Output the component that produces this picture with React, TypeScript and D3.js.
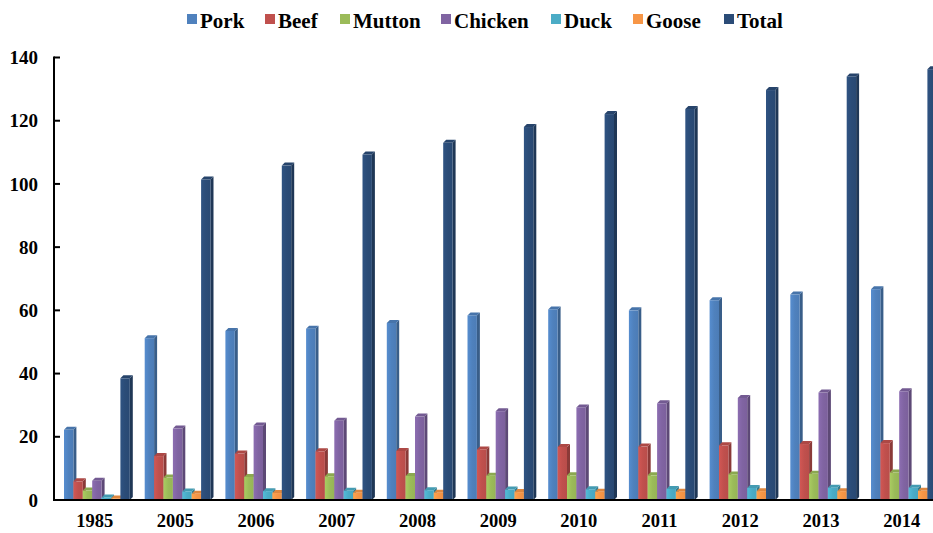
import React from "react";
import * as d3 from "d3";

const years = ["1985", "2005", "2006", "2007", "2008", "2009", "2010", "2011", "2012", "2013", "2014"];
const seriesNames = ["Pork", "Beef", "Mutton", "Chicken", "Duck", "Goose", "Total"];
const pork = [22.2, 51.2, 53.5, 54.2, 56.0, 58.4, 60.3, 60.0, 63.2, 65.0, 66.7];
const beef = [5.9, 13.9, 14.7, 15.4, 15.5, 16.0, 16.8, 16.9, 17.3, 17.7, 18.0];
const mutton = [3.0, 7.1, 7.3, 7.5, 7.6, 7.7, 7.8, 7.8, 8.1, 8.3, 8.7];
const chicken = [6.1, 22.6, 23.6, 25.1, 26.4, 28.1, 29.3, 30.6, 32.3, 34.0, 34.4];
const duck = [0.8, 2.7, 2.8, 2.9, 3.1, 3.3, 3.4, 3.5, 3.8, 3.9, 3.9];
const goose = [0.5, 2.0, 2.2, 2.3, 2.3, 2.5, 2.6, 2.6, 2.8, 2.8, 2.9];
const total = [38.5, 101.4, 105.8, 109.3, 113.0, 118.0, 122.1, 123.7, 129.7, 134.0, 136.3];
const yTicks = [0, 20, 40, 60, 80, 100, 120, 140];

const seriesValues = [pork, beef, mutton, chicken, duck, goose, total];
const colors = ["#4F81BD", "#C0504D", "#9BBB59", "#8064A2", "#4BACC6", "#F79646", "#2B4C77"];

const W = 933;
const H = 533;
const axisX = 54;
const zeroY = 500;
const topY = 57.5;
const step = 80.7;
const slot = 9.4;
const depth = 3;
const font = "'Liberation Serif', 'Times New Roman', serif";

export default function App() {
  const x = d3
    .scaleBand<string>()
    .domain(years)
    .range([axisX, axisX + step * years.length])
    .paddingInner(0)
    .paddingOuter(0);
  const y = d3.scaleLinear().domain([0, 140]).range([zeroY, topY]);

  const legendX = [187, 265, 340, 441, 551, 633, 724];

  return (
    <svg width={W} height={H} style={{ position: "absolute", left: 0, top: 0 }}>
      <defs>
        {colors.map((c, i) => (
          <linearGradient key={i} id={`g${i}`} x1="0" x2="1" y1="0" y2="0">
            <stop offset="0" stopColor={d3.color(c)!.brighter(0.25).formatHex()} />
            <stop offset="0.5" stopColor={c} />
            <stop offset="1" stopColor={d3.color(c)!.darker(0.1).formatHex()} />
          </linearGradient>
        ))}
      </defs>
      <rect width={W} height={H} fill="#fff" />

      {/* legend */}
      {seriesNames.map((n, i) => (
        <g key={n}>
          <rect x={legendX[i]} y={14} width={10} height={10} fill={colors[i]} />
          <text
            x={legendX[i] + 13}
            y={27.5}
            fontFamily={font}
            fontWeight="bold"
            fontSize={21}
            fill="#000"
          >
            {n}
          </text>
        </g>
      ))}

      {/* bars */}
      <g>
        {years.map((yr, gi) => {
          const gx = (x(yr) as number) + 10;
          return (
            <g key={yr}>
              {seriesValues.map((vals, si) => {
                const v = vals[gi];
                const bx = gx + si * slot;
                const by = y(v);
                const h = zeroY - by;
                const c = colors[si];
                const side = d3.color(c)!.darker(0.9).formatHex();
                const top = d3.color(c)!.darker(0.3).formatHex();
                return (
                  <g key={si}>
                    <polygon
                      points={`${bx + slot},${by} ${bx + slot + depth},${by - depth} ${bx + slot + depth},${zeroY - depth} ${bx + slot},${zeroY}`}
                      fill={side}
                    />
                    <polygon
                      points={`${bx},${by} ${bx + depth},${by - depth} ${bx + slot + depth},${by - depth} ${bx + slot},${by}`}
                      fill={top}
                    />
                    <rect x={bx} y={by} width={slot} height={h} fill={`url(#g${si})`} />
                  </g>
                );
              })}
            </g>
          );
        })}
      </g>

      {/* axes */}
      <line x1={axisX} x2={axisX} y1={topY - 1} y2={zeroY + 1} stroke="#000" strokeWidth={2} />
      <line x1={axisX - 1} x2={W} y1={zeroY} y2={zeroY} stroke="#000" strokeWidth={2} />
      {yTicks.map((t) => (
        <g key={t}>
          <line x1={axisX} x2={axisX + 6} y1={y(t)} y2={y(t)} stroke="#000" strokeWidth={2} />
          <text
            x={38}
            y={y(t)}
            dy="0.35em"
            textAnchor="end"
            fontFamily={font}
            fontWeight="bold"
            fontSize={19}
            fill="#000"
          >
            {t}
          </text>
        </g>
      ))}
      {years.map((yr) => (
        <text
          key={yr}
          x={(x(yr) as number) + x.bandwidth() / 2 + 0.3}
          y={527}
          textAnchor="middle"
          fontFamily={font}
          fontWeight="bold"
          fontSize={18.5}
          fill="#000"
        >
          {yr}
        </text>
      ))}
    </svg>
  );
}
